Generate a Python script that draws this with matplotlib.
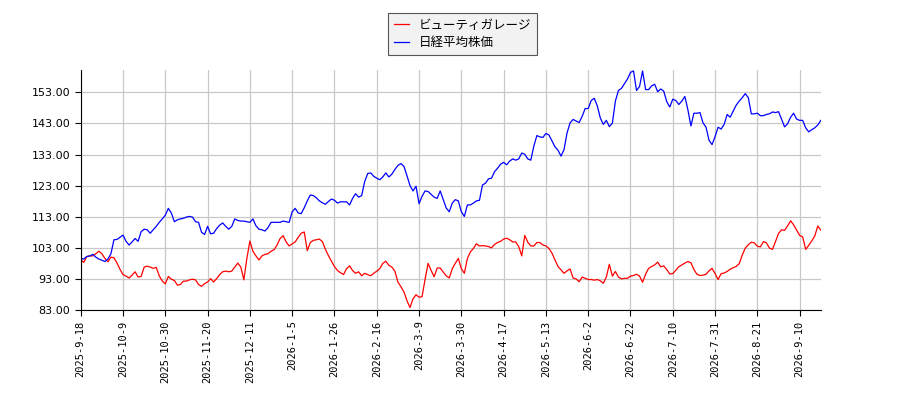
import matplotlib
matplotlib.use('Agg')
import matplotlib.pyplot as plt

# index based x axis, one point per trading day
tick_labels = ['2025-9-18', '2025-10-9', '2025-10-30', '2025-11-20', '2025-12-11',
               '2026-1-5', '2026-1-26', '2026-2-16', '2026-3-9', '2026-3-30',
               '2026-4-17', '2026-5-13', '2026-6-2', '2026-6-22', '2026-7-10',
               '2026-7-31', '2026-8-21', '2026-9-10']
tick_step = 14

red_name = 'ビューティガレージ'
blue_name = '日経平均株価'

red = [99.3, 98.3, 100.2, 100.4, 100.4, 101.1, 101.9, 101.1, 99.6, 98.5,
       100.0, 99.8, 98.1, 96.1, 94.4, 93.9, 93.3, 94.2, 95.3, 93.6,
       93.8, 96.8, 97.1, 96.8, 96.4, 96.7, 94.0, 92.3, 91.4, 93.8,
       92.9, 92.5, 91.0, 91.2, 92.3, 92.3, 92.7, 92.9, 92.7, 91.2,
       90.6, 91.5, 92.0, 93.1, 92.0, 93.1, 94.4, 95.3, 95.5, 95.3,
       95.5, 96.8, 98.1, 96.8, 92.7, 99.6, 105.2, 101.9, 100.4, 99.1,
       100.4, 100.9, 101.1, 101.9, 102.4, 103.9, 106.0, 106.9, 104.9, 103.6,
       104.3, 104.9, 106.4, 107.7, 108.1, 102.1, 104.7, 105.4, 105.6, 105.8,
       105.0, 102.5, 100.5, 98.7, 97.0, 95.7, 95.0, 94.4, 96.3, 97.2,
       95.7, 94.8, 95.3, 94.0, 94.8, 94.4, 94.0, 94.8, 95.5, 96.3,
       98.0, 98.7, 97.4, 96.8, 95.5, 92.0, 90.5, 88.8, 86.0, 83.8,
       86.6, 87.9, 87.1, 87.3, 92.9, 98.0, 95.7, 93.7, 96.5, 96.5,
       95.2, 94.0, 93.3, 96.3, 98.0, 99.6, 96.3, 94.8, 99.6, 101.7,
       102.8, 104.3, 103.6, 103.7, 103.6, 103.4, 103.0, 104.1, 104.7, 105.1,
       105.8, 106.1, 105.6, 104.9, 104.9, 103.4, 100.4, 107.0, 104.8, 103.6,
       103.6, 104.7, 104.7, 103.9, 103.6, 102.8, 101.3, 99.1, 97.0, 95.9,
       94.8, 95.6, 96.2, 93.3, 93.0, 92.1, 93.6, 93.2, 92.8, 92.8,
       92.6, 92.8, 92.4, 91.6, 93.6, 97.7, 93.9, 95.4, 93.6, 93.0,
       93.2, 93.2, 93.9, 94.1, 94.5, 93.9, 91.9, 94.5, 96.4, 97.0,
       97.5, 98.4, 96.9, 97.2, 96.0, 94.6, 94.7, 95.8, 96.9, 97.5,
       98.1, 98.6, 98.2, 96.0, 94.5, 94.1, 94.2, 94.5, 95.6, 96.4,
       94.7, 92.8, 94.7, 94.9, 95.4, 96.1, 96.6, 97.0, 97.9, 100.7,
       102.9, 104.0, 104.8, 104.6, 103.5, 103.3, 105.0, 104.6, 102.9, 102.5,
       105.0, 107.6, 108.8, 108.6, 110.0, 111.7, 110.4, 108.7, 107.0, 106.5,
       102.5, 103.8, 105.2, 106.8, 110.0, 108.7]

blue = [99.6, 99.4, 100.2, 100.4, 100.9, 100.0, 99.4, 99.0, 98.6, 99.4,
        101.1, 105.6, 105.7, 106.4, 107.1, 105.1, 103.9, 104.9, 106.0, 105.1,
        108.2, 109.0, 108.8, 107.7, 108.8, 109.9, 111.2, 112.3, 113.5, 115.7,
        114.2, 111.4, 112.0, 112.3, 112.5, 112.9, 113.1, 112.9, 111.4, 111.2,
        108.0, 107.3, 109.9, 107.5, 107.7, 109.2, 110.3, 111.0, 109.9, 109.0,
        109.9, 112.3, 111.8, 111.6, 111.6, 111.4, 111.2, 112.3, 110.1, 109.0,
        108.8, 108.4, 109.5, 111.2, 111.2, 111.2, 111.2, 111.6, 111.4, 111.2,
        114.6, 115.7, 114.2, 114.0, 115.9, 118.1, 120.0, 119.8, 119.1, 118.1,
        117.5, 117.0, 117.9, 118.7, 118.3, 117.4, 117.8, 117.8, 117.8, 116.8,
        118.9, 120.4, 119.3, 119.8, 124.3, 126.9, 127.1, 126.0, 125.4, 124.9,
        125.8, 127.1, 125.8, 126.7, 128.2, 129.5, 130.1, 129.2, 126.2, 123.0,
        121.3, 122.8, 117.2, 119.6, 121.3, 121.1, 120.2, 119.3, 118.9, 121.3,
        118.5, 115.8, 114.6, 117.4, 118.5, 118.1, 114.6, 113.1, 116.8, 116.8,
        117.4, 118.1, 118.3, 123.2, 123.8, 125.2, 125.4, 127.5, 128.6, 129.9,
        130.5, 129.7, 130.9, 131.6, 131.2, 131.6, 133.5, 133.1, 131.6, 131.2,
        135.7, 139.1, 138.7, 138.5, 139.8, 139.3, 137.4, 135.5, 134.4, 132.5,
        134.6, 140.0, 143.2, 144.3, 143.8, 143.3, 145.3, 147.8, 147.8, 150.4,
        151.1, 148.7, 144.8, 142.7, 144.0, 142.0, 143.1, 150.2, 153.6, 154.3,
        155.8, 157.3, 159.4, 159.9, 153.6, 154.9, 159.9, 153.9, 153.9, 155.1,
        155.6, 153.2, 154.1, 153.4, 150.0, 148.3, 150.8, 150.4, 149.1, 150.2,
        151.7, 147.4, 142.2, 146.3, 146.3, 146.5, 143.2, 141.8, 137.6, 136.2,
        138.8, 141.8, 141.2, 142.7, 145.9, 145.0, 147.0, 148.9, 150.2, 151.3,
        152.6, 151.3, 146.1, 146.1, 146.3, 145.5, 145.5, 145.9, 146.1, 146.7,
        146.5, 146.8, 144.4, 141.9, 142.9, 145.0, 146.3, 144.4, 144.0, 144.0,
        141.6, 140.3, 141.0, 141.6, 142.5, 144.0]

y_ticks = [83, 93, 103, 113, 123, 133, 143, 153]

fig = plt.figure(figsize=(9, 4), dpi=100)
ax = fig.add_axes([0.0897, 0.225, 0.8223, 0.6])

x = list(range(len(red)))
ax.plot(x, red, color='red', linewidth=0.9, label=red_name)
ax.plot(x, blue, color='blue', linewidth=0.9, label=blue_name)

ax.set_xlim(0, len(red) - 1)
ax.set_ylim(83, 160.2)
ax.set_yticks(y_ticks)
ax.set_yticklabels(['{:.2f}'.format(v) for v in y_ticks], fontsize=8)
ax.set_xticks([i * tick_step for i in range(len(tick_labels))])
ax.set_xticklabels(tick_labels, rotation=90, fontsize=7.5, family='DejaVu Sans Mono')

ax.grid(True, color='#c8c8c8', linewidth=0.9)
ax.set_axisbelow(True)
for side in ['top', 'right']:
    ax.spines[side].set_visible(False)
ax.tick_params(length=4, width=0.8)

leg = fig.legend(loc='upper center', bbox_to_anchor=(0.514, 0.983),
                 prop={'family': ['Noto Sans CJK JP', 'DejaVu Sans'], 'size': 9},
                 fancybox=False, edgecolor='#555555', facecolor='#f2f2f2',
                 framealpha=1.0, handlelength=1.2, borderpad=0.45, labelspacing=0.35)
leg.get_frame().set_linewidth(0.8)

fig.savefig('out.png', dpi=100)
